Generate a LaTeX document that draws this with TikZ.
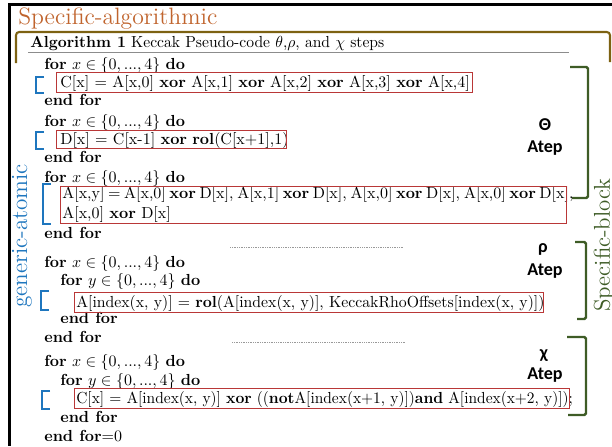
\documentclass[tikz,border=0pt]{standalone}
\usepackage{amsmath}
\usepackage{amssymb}
\usepackage{graphicx}
\usepackage{fontspec}
\usepackage{tikz}
\usepackage{xcolor}
\newfontfamily\stepfont{Carlito}
\definecolor{boxred}{RGB}{185,55,55}
\definecolor{atomblue}{RGB}{30,118,190}
\definecolor{blockgreen}{RGB}{62,92,38}
\definecolor{algobrown}{RGB}{125,98,18}
\definecolor{algotext}{RGB}{192,100,45}

\begin{document}
\begin{tikzpicture}[x=0.625pt, y=-0.625pt, font=\normalsize,
		line/.style={anchor=base west, inner sep=0pt},
		redbox/.style={draw=boxred, line width=0.6pt},
		atombr/.style={draw=atomblue, line width=1.8pt},
		blockbr/.style={draw=blockgreen, line width=1.5pt, rounded corners=1pt},
		steplabel/.style={font=\stepfont\bfseries\fontsize{11.3}{13}\selectfont, inner sep=0pt}]
		\useasboundingbox (0,0) rectangle (612,446);
		\draw[line width=1.8pt] (612,4.5) -- (9.5,4.5) -- (9.5,446);
		\node[line, text=algotext, font=\fontsize{14.8}{17}\selectfont] (specalgo) at (18,24) {Specific-algorithmic};
		\draw[algobrown, line width=1.3pt, rounded corners=2pt] (16,63) -- (16,32) -- (610,32) -- (610,62);
		\node[line] (head) at (30,47) {\scalebox{0.975}[1]{\textbf{Algorithm 1} Keccak Pseudo-code $\theta$,$\rho$, and $\chi$ steps}};
		\draw[black!45, line width=0.6pt] (28,52) -- (569,52);
		\foreach \n/\y in {forA/69, forB/126, forC/182, forD/267, forE/366}{
			\node[line] (\n) at (44,\y) {\textbf{for} $x \in \{0, ..., 4\}$ \textbf{do}};
		}
		\foreach \n/\y in {forYa/285, forYb/385}{
			\node[line] (\n) at (60,\y) {\textbf{for} $y \in \{0, ..., 4\}$ \textbf{do}};
		}
		\foreach \n/\x/\y in {endA/44/105, endB/44/162, endC/44/238, endYa/60/323, endD/44/342, endYb/60/422}{
			\node[line] (\n) at (\x,\y) {\textbf{end for}};
		}
		\node[line] (endE) at (44,441) {\textbf{end for}$=$0};
		\node[line] (cline) at (60,87) {C[x] $=$ A[x,0] \textbf{xor} A[x,1] \textbf{xor} A[x,2] \textbf{xor} A[x,3] \textbf{xor} A[x,4]};
		\draw[redbox] (56,72) rectangle (472,92);
		\node[line] (dline) at (60,144) {D[x] $=$ C[x-1] \textbf{xor} \textbf{rol}(C[x+1],1)};
		\draw[redbox] (56,130) rectangle (286,148);
		\node[line] (aline) at (62,198) {\makebox[312.5pt][s]{A[x,y] $=$ A[x,0] \textbf{xor} D[x], A[x,1] \textbf{xor} D[x], A[x,0] \textbf{xor} D[x], A[x,0] \textbf{xor} D[x],}};
		\node[line] (alineb) at (62,218) {A[x,0] \textbf{xor} D[x]};
		\draw[redbox] (60,186) rectangle (566,223);
		\node[line] (rholine) at (76,307) {\scalebox{0.985}[1]{A[index(x, y)] $=$ \textbf{rol}(A[index(x, y)], KeccakRhoOffsets[index(x, y)])}};
		\draw[redbox] (74,292) rectangle (543,312);
		\node[line] (chiline) at (76,403) {\scalebox{0.966}[1]{C[x] $=$ A[index(x, y)] \textbf{xor} ((\textbf{not}A[index(x+1, y)])\textbf{and} A[index(x+2, y)]);}};
		\draw[redbox] (74,388) rectangle (569,408);
		\draw[black!40, line width=0.5pt, dash pattern=on 0.4pt off 0.7pt] (230,247) -- (403,247);
		\draw[black!40, line width=0.5pt, dash pattern=on 0.4pt off 0.7pt] (232,342) -- (406,342);
		\draw[atombr] (44,77) -- (36,77) -- (36,93) -- (44,93);
		\draw[atombr] (44,132) -- (36,132) -- (36,149) -- (44,149);
		\draw[atombr] (51,184) -- (43,184) -- (43,224) -- (51,224);
		\draw[atombr] (49,291) -- (41,291) -- (41,310) -- (49,310);
		\draw[atombr] (50,391) -- (42,391) -- (42,409) -- (50,409);
		\node[rotate=90, text=atomblue, font=\fontsize{14.5}{16}\selectfont] (genatom) at (22,236) {generic-atomic};
		\draw[blockbr] (570,67) -- (588,67) -- (588,198) -- (572,198);
		\draw[blockbr] (575,242) -- (586,242) -- (586,319) -- (577,319);
		\draw[blockbr] (567,337) -- (586,337) -- (586,415) -- (568,415);
		\node[rotate=90, text=blockgreen, font=\fontsize{14.3}{16}\selectfont] (specblock) at (604,245) {Specific-block};
		\node[steplabel] (thetasym) at (545,125) {Θ};
		\node[steplabel] (thetastep) at (545,148) {Atep};
		\node[steplabel] (rhosym) at (543,249) {ρ};
		\node[steplabel] (rhostep) at (545,271) {Atep};
		\node[steplabel] (chisym) at (544,356) {χ};
		\node[steplabel] (chistep) at (545,375) {Atep};
	\end{tikzpicture}
\end{document}
